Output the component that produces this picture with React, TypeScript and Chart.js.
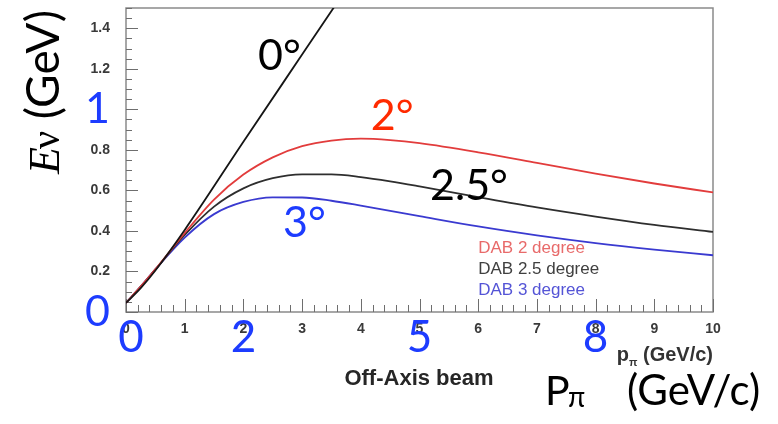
import React, { useEffect, useRef } from "react";
import { Chart, registerables } from "chart.js";

Chart.register(...registerables);

// ---- data ----
const momentum = [0, 0.25, 0.5, 1, 1.5, 2, 2.5, 3, 3.5, 4, 4.5, 5, 6, 7, 8, 9, 10];
const onAxisMomentum = [0, 0.25, 0.5, 1, 2, 3, 4];
const energy0deg = [0.045, 0.118, 0.205, 0.405, 0.84, 1.27, 1.7];
const energy2deg = [0.045, 0.125, 0.21, 0.39, 0.555, 0.678, 0.763, 0.818, 0.846, 0.855, 0.848, 0.833, 0.788, 0.736, 0.683, 0.634, 0.59];
const energy25deg = [0.045, 0.125, 0.21, 0.38, 0.52, 0.61, 0.66, 0.679, 0.679, 0.666, 0.645, 0.62, 0.567, 0.516, 0.471, 0.43, 0.395];
const energy3deg = [0.045, 0.125, 0.21, 0.367, 0.483, 0.543, 0.566, 0.565, 0.549, 0.525, 0.499, 0.473, 0.422, 0.378, 0.34, 0.308, 0.28];

const xTicks = [0, 1, 2, 3, 4, 5, 6, 7, 8, 9, 10];
const yTicks = [0, 0.2, 0.4, 0.6, 0.8, 1, 1.2, 1.4];
const highlightXTicks = [0, 2, 5, 8];
const highlightYTicks = [0, 1];
const legendLabels = ["DAB 2 degree", "DAB 2.5 degree", "DAB 3 degree"];
const angleLabels = ["0°", "2°", "2.5°", "3°"];

const BLUE = "#1d3cff";
const RED = "#ff2a00";
const SMALL_FONT = '"Liberation Sans", Arial, sans-serif';
const BIG_FONT = 'Lato, "Open Sans", sans-serif';

const isHighlightY = (v: any) =>
  typeof v === "number" && highlightYTicks.some((h) => Math.abs(h - v) < 1e-6);

const overlayPlugin = {
  id: "overlay",
  beforeDatasetsDraw(chart: any) {
    const { ctx, chartArea: a, scales } = chart;
    const x = scales.x;
    const y = scales.y;
    ctx.save();
    // frame
    ctx.strokeStyle = "#8a8a8a";
    ctx.lineWidth = 1.5;
    ctx.strokeRect(a.left, a.top, a.right - a.left, a.bottom - a.top);
    // inward ticks
    ctx.strokeStyle = "#6e6e6e";
    ctx.lineWidth = 1;
    ctx.beginPath();
    for (let i = 0; i <= 30; i++) {
      const py = Math.round(y.getPixelForValue(i * 0.05)) + 0.5;
      const len = i % 4 === 0 ? 12 : 6;
      ctx.moveTo(a.left, py);
      ctx.lineTo(a.left + len, py);
    }
    for (let i = 0; i <= 50; i++) {
      const px = Math.round(x.getPixelForValue(i * 0.2)) + 0.5;
      const len = i % 5 === 0 ? 13 : 7;
      ctx.moveTo(px, a.bottom);
      ctx.lineTo(px, a.bottom - len);
    }
    ctx.stroke();
    ctx.restore();
  },
  afterDraw(chart: any) {
    const { ctx, chartArea: a, scales } = chart;
    const x = scales.x;
    const y = scales.y;
    ctx.save();
    ctx.textBaseline = "alphabetic";

    // big blue x labels
    ctx.fillStyle = BLUE;
    ctx.font = `44px ${BIG_FONT}`;
    ctx.textAlign = "center";
    highlightXTicks.forEach((v) => {
      ctx.fillText(String(v), x.getPixelForValue(v) + (v === 0 ? 5 : 0), 352);
    });

    // angle labels
    ctx.textAlign = "left";
    ctx.font = `43px ${BIG_FONT}`;
    const anglePos = [
      [2.25, 1.195, "#000000"],
      [4.17, 0.899, RED],
      [5.18, 0.553, "#000000"],
      [2.675, 0.37, BLUE],
    ];
    angleLabels.forEach((t, i) => {
      const [px, py, c] = anglePos[i] as [number, number, string];
      ctx.fillStyle = c;
      ctx.fillText(t, x.getPixelForValue(px), y.getPixelForValue(py));
    });

    // in-plot legend text
    ctx.font = `17px ${SMALL_FONT}`;
    const legendColors = ["#e86a6a", "#404040", "#5454d6"];
    const legendY = [0.291, 0.188, 0.084];
    legendLabels.forEach((t, i) => {
      ctx.fillStyle = legendColors[i];
      ctx.fillText(t, x.getPixelForValue(6.0), y.getPixelForValue(legendY[i]));
    });

    // small axis title p_pi (GeV/c), right aligned at axis end
    ctx.fillStyle = "#333333";
    ctx.font = `bold 20px ${SMALL_FONT}`;
    const rest = " (GeV/c)";
    const wRest = ctx.measureText(rest).width;
    const wp = ctx.measureText("p").width;
    ctx.font = `bold 11px ${SMALL_FONT}`;
    const wpi = ctx.measureText("π").width;
    const sx = a.right - wRest - wpi - wp;
    ctx.font = `bold 20px ${SMALL_FONT}`;
    ctx.fillText("p", sx, 361);
    ctx.font = `bold 11px ${SMALL_FONT}`;
    ctx.fillText("π", sx + wp, 366);
    ctx.font = `bold 20px ${SMALL_FONT}`;
    ctx.fillText(rest, sx + wp + wpi, 361);

    // "Off-Axis beam"
    ctx.fillStyle = "#262626";
    ctx.font = `bold 22px ${SMALL_FONT}`;
    ctx.textAlign = "center";
    ctx.fillText("Off-Axis beam", 419, 385);

    // big x title P_pi (GeV/c)
    ctx.textAlign = "left";
    ctx.fillStyle = "#000000";
    ctx.font = `41px ${BIG_FONT}`;
    ctx.fillText("P", 545, 405);
    ctx.font = `28px ${BIG_FONT}`;
    ctx.fillText("π", 568, 407);
    ctx.font = `42px ${BIG_FONT}`;
    ctx.fillText("(GeV/c)", 627, 405);

    // big y title E nu (GeV), rotated
    ctx.save();
    ctx.translate(59, 174);
    ctx.rotate(-Math.PI / 2);
    ctx.fillStyle = "#000000";
    ctx.font = `italic 44px "Liberation Serif", serif`;
    ctx.fillText("E", 0, 0);
    let off = ctx.measureText("E").width;
    ctx.font = `40px "Liberation Serif", serif`;
    ctx.fillText("ν", off - 2, 0);
    off += ctx.measureText("ν").width - 2;
    ctx.font = `46px ${BIG_FONT}`;
    ctx.fillText(" (GeV)", off, 0);
    ctx.restore();

    ctx.restore();
  },
};

export default function App() {
  const ref = useRef<HTMLCanvasElement | null>(null);

  useEffect(() => {
    document.body.style.margin = "0";
    const canvas = ref.current;
    if (!canvas) return;

    const toPoints = (xs: number[], ys: number[]) => xs.map((v, i) => ({ x: v, y: ys[i] }));

    const chart = new Chart(canvas, {
      type: "line",
      data: {
        datasets: [
          {
            label: "0 degree",
            data: toPoints(onAxisMomentum, energy0deg),
            borderColor: "#151515",
            borderWidth: 1.8,
            pointRadius: 0,
            cubicInterpolationMode: "monotone",
          },
          {
            label: "DAB 2 degree",
            data: toPoints(momentum, energy2deg),
            borderColor: "#e23c3c",
            borderWidth: 1.8,
            pointRadius: 0,
            cubicInterpolationMode: "monotone",
          },
          {
            label: "DAB 2.5 degree",
            data: toPoints(momentum, energy25deg),
            borderColor: "#2e2e2e",
            borderWidth: 1.8,
            pointRadius: 0,
            cubicInterpolationMode: "monotone",
          },
          {
            label: "DAB 3 degree",
            data: toPoints(momentum, energy3deg),
            borderColor: "#3a3ad0",
            borderWidth: 1.8,
            pointRadius: 0,
            cubicInterpolationMode: "monotone",
          },
        ],
      },
      options: {
        responsive: false,
        animation: false,
        devicePixelRatio: 1,
        layout: { padding: { top: 8, right: 65, left: 0, bottom: 0 } },
        plugins: {
          legend: { display: false },
          tooltip: { enabled: false },
          title: { display: false },
        },
        scales: {
          x: {
            type: "linear",
            min: 0,
            max: 10,
            afterBuildTicks: (scale: any) => {
              scale.ticks = xTicks.map((v) => ({ value: v }));
            },
            afterFit: (scale: any) => {
              scale.height = 112;
              scale.paddingLeft = 0;
              scale.paddingRight = 0;
            },
            grid: { display: false, drawTicks: false },
            border: { display: false },
            ticks: {
              padding: 9,
              maxRotation: 0,
              autoSkip: false,
              color: "#3a3a3a",
              font: { family: SMALL_FONT, size: 14, weight: "bold" },
              callback: (v: any) => String(v),
            },
          },
          y: {
            type: "linear",
            min: 0,
            max: 1.5,
            afterBuildTicks: (scale: any) => {
              scale.ticks = yTicks.map((v) => ({ value: v }));
            },
            afterFit: (scale: any) => {
              scale.width = 126;
              scale.paddingTop = 0;
              scale.paddingBottom = 0;
            },
            grid: { display: false, drawTicks: false },
            border: { display: false },
            ticks: {
              padding: 16,
              autoSkip: false,
              callback: (v: any) => {
                const n = Number(v);
                if (isHighlightY(n)) return String(Math.round(n));
                return n.toFixed(1);
              },
              color: (c: any) => (isHighlightY(c && c.tick ? c.tick.value : undefined) ? BLUE : "#3a3a3a"),
              font: (c: any) =>
                isHighlightY(c && c.tick ? c.tick.value : undefined)
                  ? { family: BIG_FONT, size: 43 }
                  : { family: SMALL_FONT, size: 14, weight: "bold" },
            },
          },
        },
      },
      plugins: [overlayPlugin],
    } as any);

    return () => chart.destroy();
  }, []);

  return (
    <div style={{ width: 778, height: 424, background: "#ffffff" }}>
      <canvas ref={ref} width={778} height={424} style={{ display: "block" }} />
    </div>
  );
}
